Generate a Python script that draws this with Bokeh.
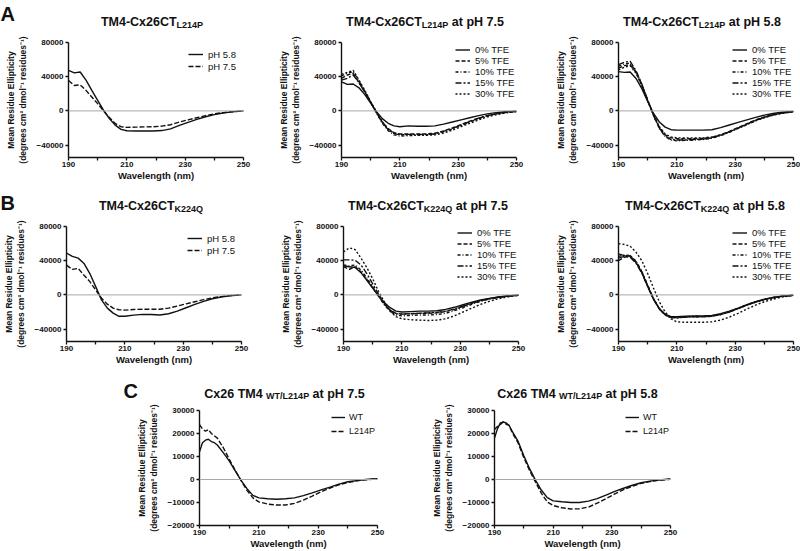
from bokeh.plotting import figure
from bokeh.layouts import column, row
from bokeh.models import Range1d, FixedTicker, BasicTickFormatter, Span, Spacer
from bokeh.core.properties import value
from bokeh.embed import file_html
from bokeh.resources import INLINE

# ---------------- data ----------------
WL = [190, 192, 194, 196, 198, 200, 202, 204, 206, 208, 210,
      213, 216, 219, 222, 225, 228, 231, 234, 237, 240, 243, 246, 250]
WL_C = [190, 191, 192, 193, 194, 195, 196, 198, 200, 202, 204, 206, 208, 210,
        213, 216, 219, 222, 225, 228, 231, 234, 237, 240, 243, 246, 250]

PH_LABELS = ["pH 5.8", "pH 7.5"]
TFE_LABELS = ["0% TFE", "5% TFE", "10% TFE", "15% TFE", "30% TFE"]
C_LABELS = ["WT", "L214P"]

A1_ph58 = [47500, 44500, 45500, 36000, 24000, 12400, 800, -8900, -16600, -21600, -23200,
           -23500, -23500, -23500, -23000, -21000, -17000, -13500, -10000, -6800, -4300, -2400, -1100, 0]
A1_ph75 = [35500, 29700, 30500, 24000, 16200, 8500, 0, -7700, -14700, -18500, -19300,
           -19000, -18700, -18500, -17800, -16200, -13000, -10500, -8000, -5500, -3500, -2000, -1000, 0]

A2_tfe0 = [34000, 31000, 31500, 27000, 19000, 9000, -1000, -9000, -14500, -17500, -18500,
           -17500, -18000, -18000, -17500, -15500, -13000, -10500, -8000, -5500, -3500, -2000, -1000, -300]
A2_tfe5 = [38000, 42000, 44000, 33000, 22000, 10000, -2000, -13000, -21000, -25500, -27000,
           -27000, -27000, -27000, -26000, -23500, -20000, -16000, -12000, -8500, -5500, -3500, -1800, -500]
A2_tfe10 = [41000, 44000, 46000, 35000, 23000, 10500, -2500, -14500, -23000, -28000, -29500,
            -29000, -28500, -28000, -27000, -24500, -21000, -17000, -13000, -9000, -6000, -3500, -2000, -500]
A2_tfe15 = [36000, 38000, 42000, 33000, 22000, 10000, -2000, -13500, -22000, -26500, -28000,
            -27500, -27500, -27500, -27000, -24000, -20500, -16500, -12500, -8500, -5500, -3500, -1800, -500]
A2_tfe30 = [43000, 45000, 47500, 36000, 24000, 11000, -1500, -12500, -21000, -26000, -27500,
            -28000, -28500, -28500, -28000, -26000, -22500, -18500, -14500, -10500, -7000, -4500, -2500, -800]

A3_tfe0 = [46000, 45000, 45500, 38000, 26000, 11000, -3000, -13000, -19000, -22000, -22500,
           -22500, -22500, -22500, -22000, -19500, -16500, -13500, -10500, -7500, -5000, -3000, -1500, -500]
A3_tfe5 = [50000, 53000, 54000, 45000, 30000, 12000, -5000, -19000, -28000, -31500, -32500,
           -32500, -32500, -32000, -31000, -28000, -24000, -19500, -15000, -10500, -7000, -4500, -2500, -800]
A3_tfe10 = [52000, 55000, 56000, 46000, 31000, 12500, -5500, -20500, -30000, -34000, -35000,
            -34500, -34000, -33500, -32000, -29000, -25000, -20500, -16000, -11500, -7500, -4500, -2500, -800]
A3_tfe15 = [54000, 57000, 58000, 47000, 31500, 13000, -5000, -20000, -29500, -33500, -34000,
            -34000, -33500, -33000, -31500, -28500, -24500, -20000, -15500, -11000, -7500, -4500, -2500, -800]
A3_tfe30 = [48000, 51000, 53000, 44000, 29500, 12000, -4500, -18500, -27000, -30500, -31500,
            -31500, -31500, -31500, -30500, -28000, -24500, -20500, -16000, -11500, -8000, -5000, -3000, -1000]

B1_ph58 = [49000, 45000, 43000, 36800, 25000, 9700, -5800, -15500, -21300, -25000, -25000,
           -23600, -22800, -23000, -23500, -22000, -19000, -15000, -11000, -7500, -4500, -2500, -1000, 0]
B1_ph75 = [34800, 29800, 31000, 23000, 15500, 5800, -3900, -10800, -15500, -17400, -17800,
           -17000, -16800, -16800, -16800, -15500, -13000, -10500, -8000, -5500, -3500, -2000, -800, 0]

B2_tfe0 = [34000, 33000, 32000, 26000, 17000, 8000, -1000, -9000, -15000, -19000, -20000,
           -19500, -19000, -19000, -18500, -17000, -14500, -11500, -8500, -6000, -4000, -2500, -1200, -300]
B2_tfe5 = [33000, 30000, 33000, 27000, 18000, 8500, -1500, -11000, -18000, -21500, -22500,
           -22000, -21500, -21500, -21000, -19500, -17000, -13500, -10000, -7000, -4500, -2800, -1400, -400]
B2_tfe10 = [35000, 34000, 35000, 29000, 20000, 9500, -1000, -11500, -19500, -23500, -24500,
            -24000, -23500, -23500, -23000, -21500, -18500, -15000, -11000, -7500, -5000, -3000, -1500, -400]
B2_tfe15 = [41000, 41000, 40500, 35000, 25000, 13000, 1000, -10000, -18000, -22000, -22500,
            -22000, -21500, -21000, -20500, -19000, -16500, -13000, -9500, -6500, -4500, -2800, -1400, -400]
B2_tfe30 = [50300, 55000, 53000, 43000, 32000, 19000, 4000, -8000, -19000, -25500, -28000,
            -29000, -29500, -30000, -29500, -28000, -24500, -20000, -15500, -11000, -7500, -4500, -2500, -500]

B3_tfe0 = [48000, 46000, 45000, 38000, 26000, 10000, -5000, -16000, -22500, -25500, -25500,
           -25000, -24500, -24500, -24000, -22000, -19000, -15500, -11500, -8000, -5000, -3000, -1500, -400]
B3_tfe5 = [40000, 44000, 46000, 39000, 27000, 11000, -4500, -16500, -23500, -26500, -26500,
           -26000, -25500, -25500, -25000, -23000, -20000, -16000, -12000, -8500, -5500, -3200, -1600, -400]
B3_tfe10 = [45000, 46500, 46000, 39500, 27500, 11500, -4000, -16000, -23000, -26000, -26500,
            -25500, -25000, -25000, -24500, -22500, -19500, -15500, -11500, -8000, -5200, -3000, -1500, -400]
B3_tfe15 = [43000, 45000, 44000, 37000, 25500, 10000, -5000, -16500, -23500, -26500, -27000,
            -26000, -25500, -25500, -25000, -23000, -20000, -16000, -12000, -8500, -5500, -3200, -1600, -400]
B3_tfe30 = [60000, 59000, 57000, 50000, 40000, 25000, 8000, -8000, -20000, -28000, -31500,
            -32000, -32000, -32000, -31500, -29500, -26000, -21500, -16500, -12000, -8000, -5000, -2500, -500]

C1_wt = [12000, 16000, 17100, 17500, 16500, 16000, 15000, 11700, 8100, 3900, -400, -4000, -6900, -8000,
         -8400, -8600, -8400, -8000, -7000, -5800, -4500, -3300, -2000, -1000, -500, 0, 300]
C1_l214p = [23900, 22000, 21000, 21700, 20000, 19000, 18000, 13900, 8900, 4100, -400, -4700, -8000, -9700,
            -10700, -11100, -11100, -10400, -9000, -7200, -5300, -3700, -2300, -1300, -600, -100, 300]
C2_wt = [18000, 22000, 24600, 25000, 24600, 23500, 21000, 16700, 10300, 4600, -400, -4700, -7900, -9300,
         -9700, -10000, -10000, -9400, -8300, -6800, -5200, -3800, -2500, -1400, -700, -200, 200]
C2_l214p = [21700, 23000, 23900, 25000, 24000, 23500, 20500, 16000, 9500, 3800, -1200, -6000, -9800, -11300,
            -12300, -12800, -12700, -12000, -10300, -8300, -6300, -4400, -2900, -1700, -900, -300, 100]

X_TICKS = [190, 210, 230, 250]
X_MINOR = [200, 220, 240]
Y_TICKS_AB = [80000, 40000, 0, -40000]
Y_TICKS_C = [30000, 20000, 10000, 0, -10000, -20000]

# ---------------- styling helpers ----------------
FONT = "Liberation Sans"
INK = "#111111"
PH_DASH = ["solid", "5 2"]
TFE_DASH = ["solid", "4 2", "3 2 1 2", "6 2 2 2", "2 2"]
YLAB = "Mean Residue Ellipticity\n(degrees cm\u00b2 dmol\u207b\u00b9 residues\u207b\u00b9)"

W_BOLD = {'T': 611, 'M': 833, '4': 556, '-': 333, 'C': 722, 'x': 556, '2': 556, '6': 556,
          'L': 611, '1': 556, 'P': 667, 'K': 722, 'Q': 778, ' ': 278, 'a': 556, 't': 333,
          'p': 611, 'H': 722, '7': 556, '.': 278, '5': 556, '8': 556, 'W': 944, '/': 278}


def make_fig(w, h, bl, br, bt, bb, yr, yticks):
    p = figure(width=w, height=h, x_range=Range1d(190, 250), y_range=Range1d(*yr),
               output_backend="svg", toolbar_location=None, tools="", title=None,
               min_border_left=bl, min_border_right=br, min_border_top=bt, min_border_bottom=bb)
    p.outline_line_color = None
    p.xgrid.visible = False
    p.ygrid.visible = False
    p.xaxis.ticker = FixedTicker(ticks=X_TICKS, minor_ticks=X_MINOR)
    p.yaxis.ticker = FixedTicker(ticks=yticks, minor_ticks=[])
    p.yaxis.formatter = BasicTickFormatter(use_scientific=False)
    for ax in (p.xaxis[0], p.yaxis[0]):
        ax.axis_line_width = 1.4
        ax.axis_line_color = INK
        ax.major_tick_in = 0
        ax.major_tick_out = 3
        ax.minor_tick_in = 0
        ax.minor_tick_out = 3
        ax.major_tick_line_width = 1.3
        ax.minor_tick_line_width = 1.3
        ax.major_tick_line_color = INK
        ax.minor_tick_line_color = INK
        ax.major_label_text_font = FONT
        ax.major_label_text_font_size = "8px"
        ax.major_label_text_font_style = "bold"
        ax.major_label_text_color = INK
        ax.axis_label_text_font = FONT
        ax.axis_label_text_font_style = "bold"
        ax.axis_label_text_color = INK
    p.xaxis.axis_label_text_font_size = "9.5px"
    p.yaxis.axis_label_text_font_size = "8.5px"
    p.xaxis.axis_label = "Wavelength (nm)"
    p.yaxis.axis_label = YLAB
    p.xaxis.major_label_standoff = 1
    p.xaxis.axis_label_standoff = 0
    p.yaxis.major_label_standoff = 2
    p.yaxis.axis_label_standoff = 6
    p.add_layout(Span(location=0, dimension="width", line_color="#a8a8a8", line_width=1))
    return p


def make_header(w, h):
    p = figure(width=w, height=h, x_range=Range1d(0, w), y_range=Range1d(0, h),
               x_axis_type=None, y_axis_type=None, output_backend="svg",
               toolbar_location=None, tools="", title=None,
               min_border_left=0, min_border_right=0, min_border_top=0, min_border_bottom=0)
    p.outline_line_color = None
    return p


def add_curves(p, wl, series, labels, dashes):
    for vals, lab, dash in zip(series, labels, dashes):
        p.line(wl, vals, line_color=INK, line_width=1.4, line_dash=dash, legend_label=lab)


def style_legend(p, x, y, h, gw=15, fs="9.5px", standoff=5):
    lg = p.legend[0]
    lg.location = (x, y)
    lg.border_line_color = None
    lg.background_fill_alpha = 0
    lg.padding = 0
    lg.margin = 0
    lg.spacing = 0
    lg.glyph_width = gw
    lg.glyph_height = h
    lg.label_height = h
    lg.label_standoff = standoff
    lg.label_text_font = FONT
    lg.label_text_font_size = fs
    lg.label_text_color = INK


def put_text(hdr, x, baseline, txt, size):
    # baseline measured upward from the header's bottom edge
    hdr.text(x=[x], y=[baseline + 0.2 * size], text=[txt], text_font=value(FONT),
             text_font_size=f"{size}px", text_font_style="bold", text_color=INK,
             text_baseline="alphabetic", text_align="left")


def add_title(hdr, parts, center_x, y):
    widths = [sum(W_BOLD[c] for c in txt) * size / 1000.0 for txt, size, dy in parts]
    x = center_x - sum(widths) / 2.0
    for (txt, size, dy), w in zip(parts, widths):
        lead = len(txt) - len(txt.lstrip())
        put_text(hdr, x + lead * 278 * size / 1000.0, y - dy, txt.strip(), size)
        x += w


def frame_centers(x0, specs):
    out = []
    for w, bl, br in specs:
        out.append(x0 + bl + (w - bl - br) / 2.0)
        x0 += w
    return out


YR_AB = (-54500, 80000)
YR_C = (-20000, 30000)
SPEC_A = [(265, 68, 22), (272, 76, 21), (263, 81, 7)]
SPEC_B = [(265, 66, 24), (272, 78, 19), (263, 81, 7)]
SPEC_C = [(290, 69, 43), (290, 74, 40)]
C_OFFSET = 130

# ---------------- row A ----------------
HA = 30
hA = make_header(800, HA)
cA = frame_centers(0, SPEC_A)
put_text(hA, 0, HA - 17, "A", 20)
add_title(hA, [("TM4-Cx26CT", 12.5, 0), ("L214P", 9, 2)], cA[0] - 4, HA - 24)
add_title(hA, [("TM4-Cx26CT", 12.5, 0), ("L214P", 9, 2), (" at pH 7.5", 12.5, 0)], cA[1] - 4, HA - 24)
add_title(hA, [("TM4-Cx26CT", 12.5, 0), ("L214P", 9, 2), (" at pH 5.8", 12.5, 0)], cA[2] - 4, HA - 24)

HFA = 160
a1 = make_fig(SPEC_A[0][0], HFA, SPEC_A[0][1], SPEC_A[0][2], 12, 33, YR_AB, Y_TICKS_AB)
add_curves(a1, WL, [A1_ph58, A1_ph75], PH_LABELS, PH_DASH)
style_legend(a1, 120, 85, 12)

a2 = make_fig(SPEC_A[1][0], HFA, SPEC_A[1][1], SPEC_A[1][2], 12, 33, YR_AB, Y_TICKS_AB)
add_curves(a2, WL, [A2_tfe0, A2_tfe5, A2_tfe10, A2_tfe15, A2_tfe30], TFE_LABELS, TFE_DASH)
style_legend(a2, 114, 58, 11)

a3 = make_fig(SPEC_A[2][0], HFA, SPEC_A[2][1], SPEC_A[2][2], 12, 33, YR_AB, Y_TICKS_AB)
add_curves(a3, WL, [A3_tfe0, A3_tfe5, A3_tfe10, A3_tfe15, A3_tfe30], TFE_LABELS, TFE_DASH)
style_legend(a3, 114, 58, 11)

# ---------------- row B ----------------
HB = 24
hB = make_header(800, HB)
cB = frame_centers(0, SPEC_B)
put_text(hB, 0, HB - 16, "B", 20)
add_title(hB, [("TM4-Cx26CT", 12.5, 0), ("K224Q", 9, 2)], cB[0] - 3, HB - 18)
add_title(hB, [("TM4-Cx26CT", 12.5, 0), ("K224Q", 9, 2), (" at pH 7.5", 12.5, 0)], cB[1] - 3, HB - 18)
add_title(hB, [("TM4-Cx26CT", 12.5, 0), ("K224Q", 9, 2), (" at pH 5.8", 12.5, 0)], cB[2] - 1, HB - 18)

HFB = 158
b1 = make_fig(SPEC_B[0][0], HFB, SPEC_B[0][1], SPEC_B[0][2], 12, 31, YR_AB, Y_TICKS_AB)
add_curves(b1, WL, [B1_ph58, B1_ph75], PH_LABELS, PH_DASH)
style_legend(b1, 121, 85, 12)

b2 = make_fig(SPEC_B[1][0], HFB, SPEC_B[1][1], SPEC_B[1][2], 12, 31, YR_AB, Y_TICKS_AB)
add_curves(b2, WL, [B2_tfe0, B2_tfe5, B2_tfe10, B2_tfe15, B2_tfe30], TFE_LABELS, TFE_DASH)
style_legend(b2, 114, 59, 11)

b3 = make_fig(SPEC_B[2][0], HFB, SPEC_B[2][1], SPEC_B[2][2], 12, 31, YR_AB, Y_TICKS_AB)
add_curves(b3, WL, [B3_tfe0, B3_tfe5, B3_tfe10, B3_tfe15, B3_tfe30], TFE_LABELS, TFE_DASH)
style_legend(b3, 114, 59, 11)

# ---------------- row C ----------------
HC = 29
hC = make_header(800, HC)
cC = frame_centers(C_OFFSET, SPEC_C)
put_text(hC, 123, 7, "C", 20)
add_title(hC, [("Cx26 TM4 ", 12.5, 0), ("WT/L214P", 9, 2), (" at pH 7.5", 12.5, 0)], cC[0] - 4, 5.5)
add_title(hC, [("Cx26 TM4 ", 12.5, 0), ("WT/L214P", 9, 2), (" at pH 5.8", 12.5, 0)], cC[1] - 5, 5.5)

HFC = 150
c1 = make_fig(SPEC_C[0][0], HFC, SPEC_C[0][1], SPEC_C[0][2], 9, 25, YR_C, Y_TICKS_C)
add_curves(c1, WL_C, [C1_wt, C1_l214p], C_LABELS, PH_DASH)
style_legend(c1, 132, 87, 14, gw=14, fs="9px", standoff=4)

c2 = make_fig(SPEC_C[1][0], HFC, SPEC_C[1][1], SPEC_C[1][2], 9, 25, YR_C, Y_TICKS_C)
add_curves(c2, WL_C, [C2_wt, C2_l214p], C_LABELS, PH_DASH)
style_legend(c2, 131, 87, 14, gw=14, fs="9px", standoff=4)

layout = column(
    hA,
    row(a1, a2, a3),
    hB,
    row(b1, b2, b3),
    hC,
    row(Spacer(width=C_OFFSET, height=HFC), c1, c2),
)

open("out.html", "w").write(file_html(layout, INLINE))
